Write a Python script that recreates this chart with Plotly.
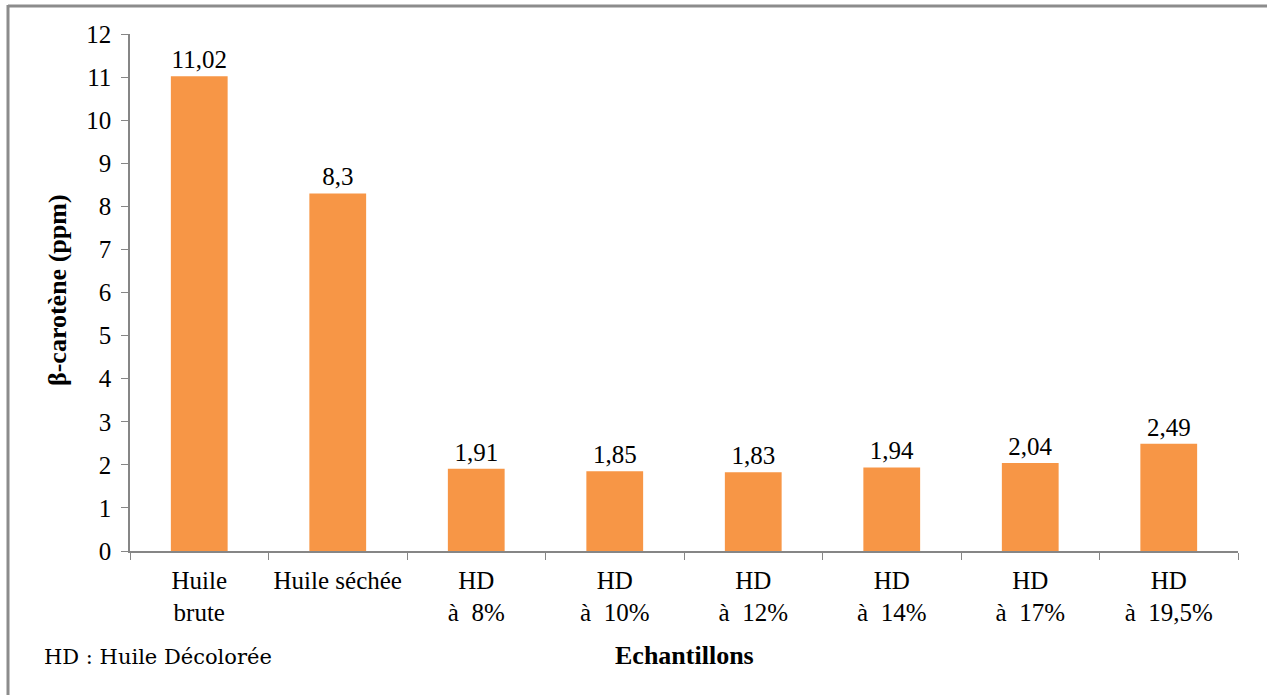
import plotly.graph_objects as go

# Samples and beta-carotene content (ppm)
categories = [
    "Huile<br>brute",
    "Huile séchée",
    "HD<br>à\u00a0\u00a08%",
    "HD<br>à\u00a0\u00a010%",
    "HD<br>à\u00a0\u00a012%",
    "HD<br>à\u00a0\u00a014%",
    "HD<br>à\u00a0\u00a017%",
    "HD<br>à\u00a0\u00a019,5%",
]
beta_carotene = [11.02, 8.3, 1.91, 1.85, 1.83, 1.94, 2.04, 2.49]
y_ticks = list(range(0, 13))

labels = [f"{v:g}".replace(".", ",") for v in beta_carotene]

FONT = "Liberation Serif, Times New Roman, serif"
AXIS_GREY = "#868686"

fig = go.Figure(
    go.Bar(
        x=categories,
        y=beta_carotene,
        text=labels,
        textposition="outside",
        textfont=dict(family=FONT, size=25, color="black"),
        marker=dict(color="#F79646", line=dict(width=0)),
        cliponaxis=False,
        width=0.41,
    )
)

# plot area in pixels: x 130..1238, y 34..551
L, R, T, B = 130, 29, 34, 144
W, H = 1267, 695
pw, ph = W - L - R, H - T - B

def px_x(x):
    return (x - L) / pw

def px_y(y):
    return (H - B - y) / ph

fig.update_layout(
    width=W,
    height=H,
    margin=dict(l=L, r=R, t=T, b=B),
    paper_bgcolor="white",
    plot_bgcolor="white",
    showlegend=False,
    font=dict(family=FONT, size=25, color="black"),
    xaxis=dict(
        showline=True,
        linecolor=AXIS_GREY,
        linewidth=1.5,
        ticks="outside",
        tickson="boundaries",
        ticklen=7,
        tickcolor=AXIS_GREY,
        tickangle=0,
        ticklabelstandoff=6,
        tickfont=dict(family=FONT, size=25, color="black"),
        showgrid=False,
    ),
    yaxis=dict(
        range=[0, 12],
        tickvals=y_ticks,
        showline=True,
        linecolor=AXIS_GREY,
        linewidth=1.5,
        ticks="outside",
        ticklen=7,
        tickcolor=AXIS_GREY,
        ticklabelstandoff=5,
        tickfont=dict(family=FONT, size=25, color="black"),
        showgrid=False,
        zeroline=False,
    ),
    annotations=[
        dict(
            text="<b>β-carotène (ppm)</b>",
            x=px_x(57), y=px_y(290), xref="paper", yref="paper",
            xanchor="center", yanchor="middle",
            textangle=-90, showarrow=False,
            font=dict(family=FONT, size=26, color="black"),
        ),
        dict(
            text="<b>Echantillons</b>",
            x=px_x(684), y=px_y(655), xref="paper", yref="paper",
            xanchor="center", yanchor="middle",
            showarrow=False,
            font=dict(family=FONT, size=26, color="black"),
        ),
        dict(
            text="HD : Huile Décolorée",
            x=px_x(42), y=px_y(657), xref="paper", yref="paper",
            xanchor="left", yanchor="middle", showarrow=False,
            font=dict(family="DejaVu Serif", size=21, color="black"),
        ),
    ],
    shapes=[
        dict(type="line", xref="paper", yref="paper",
             x0=px_x(8), x1=px_x(1267), y0=px_y(6), y1=px_y(6),
             line=dict(color="#8c8c8c", width=3)),
        dict(type="line", xref="paper", yref="paper",
             x0=px_x(8), x1=px_x(8), y0=px_y(5), y1=px_y(695),
             line=dict(color="#8c8c8c", width=3)),
    ],
)

fig.write_html("out.html")
